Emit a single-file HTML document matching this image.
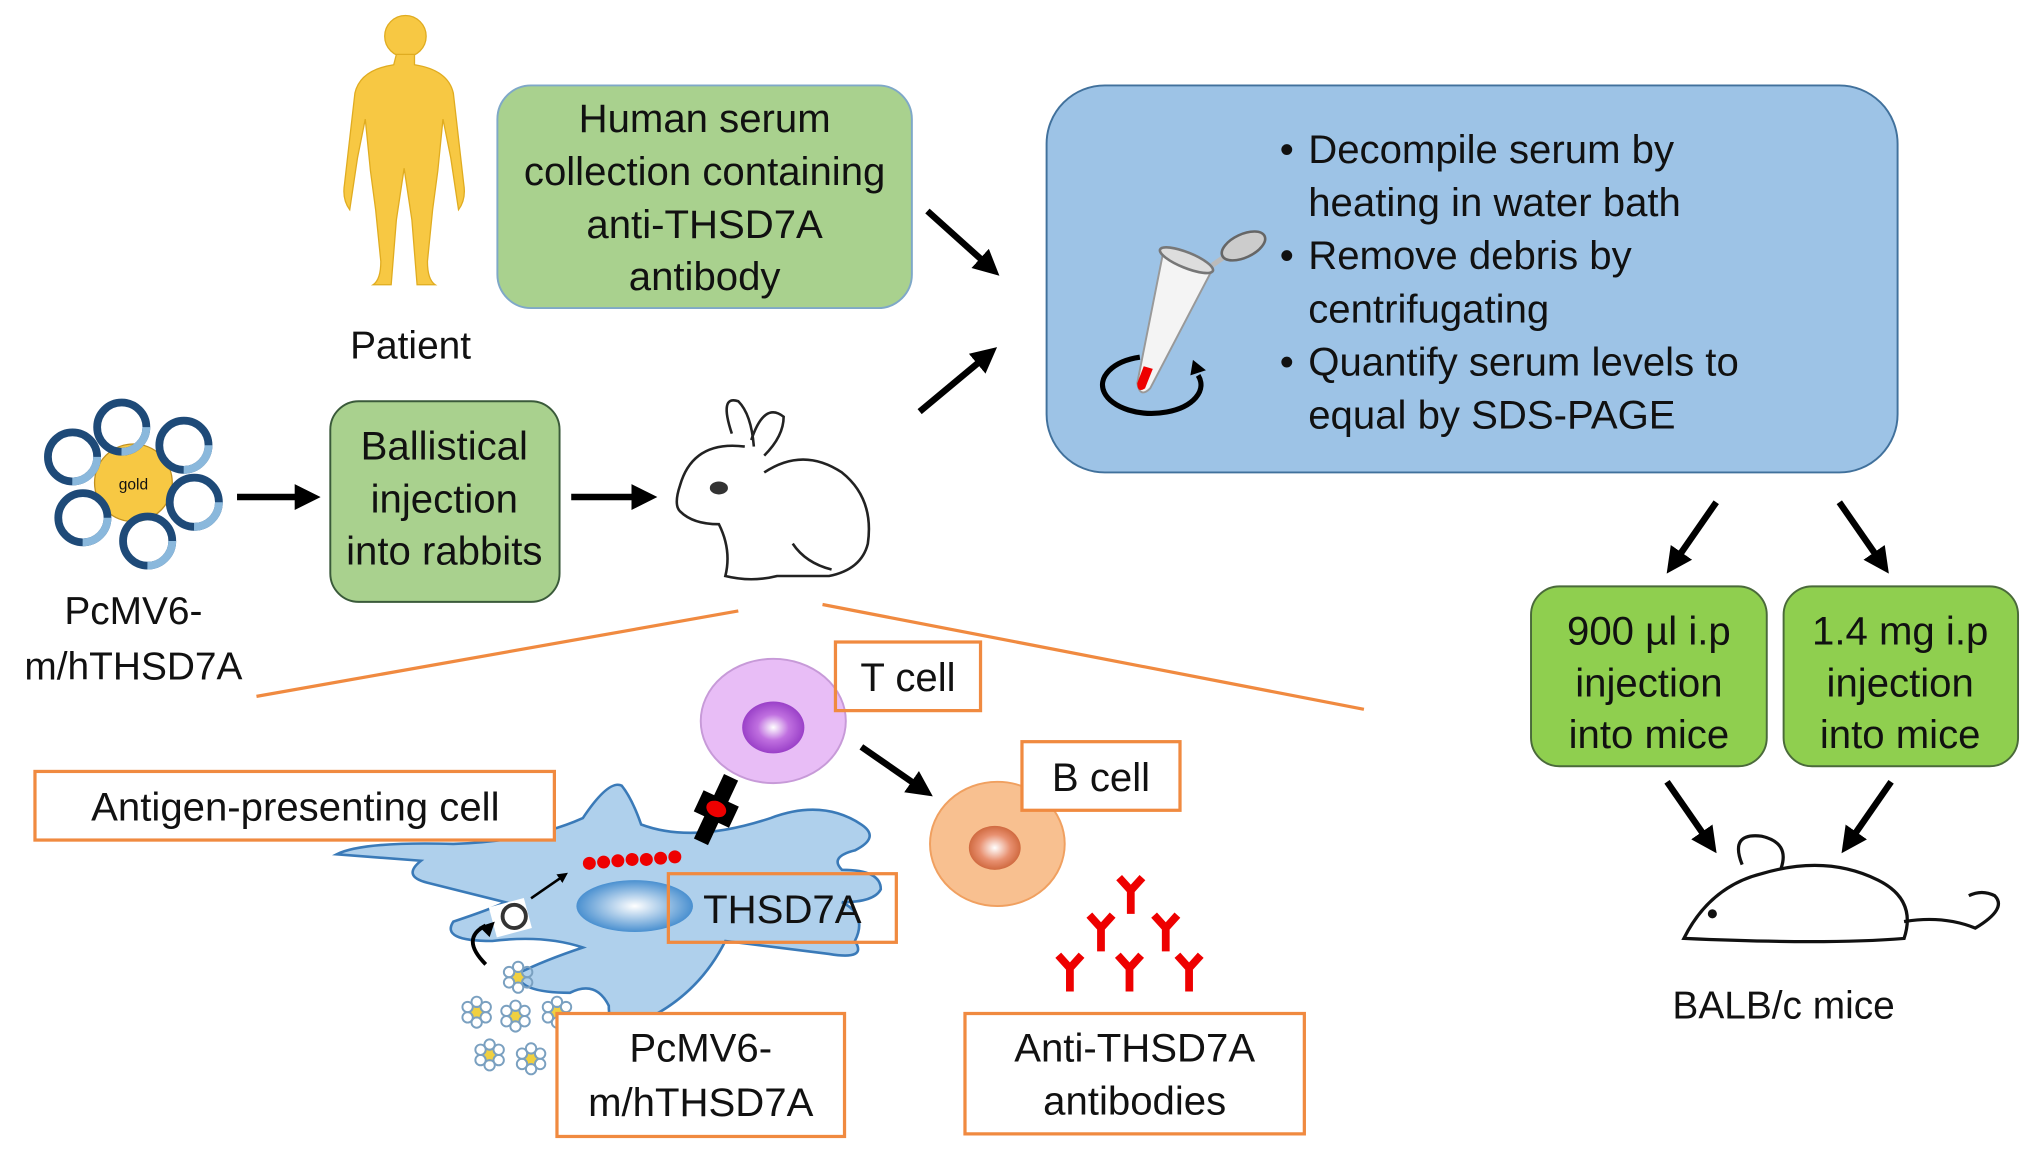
<!DOCTYPE html>
<html><head><meta charset="utf-8"><style>
html,body{margin:0;padding:0;background:#fff;}
svg{display:block;}
text{font-family:"Liberation Sans",Arial,sans-serif;fill:#111;}
</style></head><body>
<svg width="2031" height="1152" viewBox="0 0 1568 890" preserveAspectRatio="none" xmlns="http://www.w3.org/2000/svg">
<defs>
<marker id="ah" markerWidth="4" markerHeight="4" refX="2.5" refY="2" orient="auto" markerUnits="strokeWidth"><path d="M0,0 L4,2 L0,4 z" fill="#000"/></marker>
<radialGradient id="tc" cx="50%" cy="50%" r="50%"><stop offset="0" stop-color="#fff"/><stop offset="0.5" stop-color="#c070e0"/><stop offset="1" stop-color="#9a40c8"/></radialGradient>
<radialGradient id="bc" cx="50%" cy="50%" r="50%"><stop offset="0" stop-color="#fff"/><stop offset="0.6" stop-color="#e89070"/><stop offset="1" stop-color="#d06a40"/></radialGradient>
<radialGradient id="nu" cx="50%" cy="50%" r="50%"><stop offset="0" stop-color="#fff"/><stop offset="1" stop-color="#4a90d0"/></radialGradient>
<g id="ab"><path d="M0,0 L0,18 M0,0 L-9,-10 M0,0 L9,-10" stroke="#e00" stroke-width="6" fill="none"/></g>
<g id="fl"><circle r="5" fill="#f0d040"/><g fill="none" stroke="#7aa0c0" stroke-width="1.5"><circle cx="0" cy="-8" r="4"/><circle cx="7" cy="-4" r="4"/><circle cx="7" cy="4" r="4"/><circle cx="0" cy="8" r="4"/><circle cx="-7" cy="4" r="4"/><circle cx="-7" cy="-4" r="4"/></g></g>
</defs>

<!-- Human figure -->
<g fill="#F7C843" stroke="#e0ac20" stroke-width="1">
<circle cx="313" cy="28" r="16"/>
<path d="M306,42 h14 v8 q26,4 30,22 l8,70 q2,12 -4,20 l-6,-40 l-6,-30 l-4,40 l-4,30 l-4,40 q0,14 6,18 h-14 l-4,-50 l-6,-40 l-6,40 l-4,50 h-14 q6,-4 6,-18 l-4,-40 l-4,-30 l-4,-40 l-6,30 l-6,40 q-6,-8 -4,-20 l8,-70 q4,-18 30,-22 z"/>
</g>
<text x="317" y="277" font-size="30" text-anchor="middle">Patient</text>

<!-- Green box 1 -->
<rect x="384" y="66" width="320" height="172" rx="26" fill="#A9D18E" stroke="#7fa8c8" stroke-width="1.5"/>
<g font-size="31" text-anchor="middle"><text x="544" y="102">Human serum</text><text x="544" y="143">collection containing</text><text x="544" y="184">anti-THSD7A</text><text x="544" y="224">antibody</text></g>

<!-- arrows to blue box -->
<g stroke="#000" stroke-width="5" marker-end="url(#ah)"><line x1="716" y1="163" x2="766" y2="208"/><line x1="710" y1="318" x2="764" y2="273"/></g>

<!-- Blue box -->
<rect x="808" y="66" width="657" height="299" rx="45" fill="#9DC3E6" stroke="#41719C" stroke-width="1.5"/>
<g font-size="31"><text x="988" y="126">•</text><text x="1010" y="126">Decompile serum by</text><text x="1010" y="167">heating in water bath</text>
<text x="988" y="208">•</text><text x="1010" y="208">Remove debris by</text><text x="1010" y="249">centrifugating</text>
<text x="988" y="290">•</text><text x="1010" y="290">Quantify serum levels to</text><text x="1010" y="331">equal by SDS-PAGE</text></g>
<!-- tube icon -->
<path d="M898,195 L935,210 L888,300 Q880,308 878,296 Z" fill="#f4f4f4" stroke="#999" stroke-width="1.5"/>
<path d="M883,283 L890,285 L884,300 Q878,304 878,296 Z" fill="#e00"/>
<ellipse cx="916" cy="201" rx="22" ry="6" transform="rotate(22 916 201)" fill="#ddd" stroke="#777" stroke-width="2"/>
<path d="M936,205 q8,-6 12,-8" stroke="#bbb" stroke-width="4" fill="none"/>
<ellipse cx="960" cy="190" rx="18" ry="9" transform="rotate(-25 960 190)" fill="#ccc" stroke="#666" stroke-width="2"/>
<path d="M925,290 A38,22 0 1 1 880,276" fill="none" stroke="#000" stroke-width="4"/>
<path d="M921,278 l10,8 l-12,4 z" fill="#000"/>

<!-- plasmid gold -->
<circle cx="103" cy="373" r="30" fill="#F7C843" stroke="#c09020"/>
<text x="103" y="378" font-size="12" text-anchor="middle" fill="#554">gold</text>
<g fill="none" stroke-width="6">
<g stroke="#1e4a78"><circle cx="94" cy="330" r="19"/><circle cx="142" cy="344" r="19"/><circle cx="150" cy="388" r="19"/><circle cx="114" cy="418" r="19"/><circle cx="64" cy="400" r="19"/><circle cx="56" cy="353" r="19"/></g>
<g stroke="#8ab8dc" stroke-dasharray="30 90"><circle cx="94" cy="330" r="19"/><circle cx="142" cy="344" r="19"/><circle cx="150" cy="388" r="19"/><circle cx="114" cy="418" r="19"/><circle cx="64" cy="400" r="19"/><circle cx="56" cy="353" r="19"/></g>
</g>
<g font-size="30" text-anchor="middle"><text x="103" y="482">PcMV6-</text><text x="103" y="525">m/hTHSD7A</text></g>

<g stroke="#000" stroke-width="5" marker-end="url(#ah)"><line x1="183" y1="384" x2="240" y2="384"/><line x1="441" y1="384" x2="500" y2="384"/></g>

<!-- green box 2 -->
<rect x="255" y="310" width="177" height="155" rx="22" fill="#A9D18E" stroke="#3a5a3a" stroke-width="1.5"/>
<g font-size="31" text-anchor="middle"><text x="343" y="355">Ballistical</text><text x="343" y="396">injection</text><text x="343" y="436">into rabbits</text></g>

<!-- rabbit -->
<g fill="none" stroke="#222" stroke-width="2">
<path d="M565,335 q-10,-30 5,-25 q10,10 12,35"/><path d="M580,340 q10,-30 25,-18 q0,15 -15,30"/>
<path d="M575,345 q-40,-5 -50,30 q-5,15 0,20 q10,10 30,10 q10,20 5,40 q20,5 40,0 h40 q25,-5 30,-25 q5,-35 -20,-55 q-30,-20 -60,0"/>
<path d="M612,420 q10,15 30,20"/>
</g>
<ellipse cx="555" cy="377" rx="7" ry="5" fill="#333"/>

<!-- orange lines -->
<g stroke="#F08A40" stroke-width="2.5"><line x1="570" y1="472" x2="198" y2="538"/><line x1="635" y1="467" x2="1053" y2="548"/></g>

<!-- APC cell -->
<path d="M260,660 q20,-10 90,-8 q60,-2 100,-20 q20,-30 30,-25 q8,10 15,30 q40,15 100,-5 q40,-15 70,5 q15,10 -5,20 q-20,5 -10,15 q30,0 30,15 q-5,10 -30,10 q20,10 10,30 q10,15 -20,10 q-40,-5 -80,-10 q-20,40 -60,60 q-30,20 -30,-10 q-10,-20 -30,-10 q-40,0 -40,-15 q20,-10 50,-20 q-30,-10 -70,-5 q-40,0 -30,-15 q30,-10 40,-15 q-40,-10 -60,-15 q-20,-5 -5,-17 z" fill="#AFD0EC" stroke="#3a7ab8" stroke-width="2"/>
<ellipse cx="490" cy="700" rx="45" ry="20" fill="url(#nu)"/>
<g fill="#e00"><circle cx="455" cy="667" r="5"/><circle cx="466" cy="666" r="5"/><circle cx="477" cy="665" r="5"/><circle cx="488" cy="664" r="5"/><circle cx="499" cy="664" r="5"/><circle cx="510" cy="663" r="5"/><circle cx="521" cy="662" r="5"/></g>
<rect x="380" y="697" width="28" height="24" fill="#fff" transform="rotate(-15 394 709)"/>
<circle cx="397" cy="708" r="9" fill="#fff" stroke="#333" stroke-width="3"/>
<line x1="410" y1="694" x2="436" y2="676" stroke="#000" stroke-width="2" marker-end="url(#ah)"/>
<path d="M375,745 q-20,-20 0,-30" fill="none" stroke="#000" stroke-width="3"/>
<path d="M370,716 l12,-4 l-4,12 z" fill="#000"/>
<use href="#fl" x="400" y="755"/><use href="#fl" x="368" y="782"/><use href="#fl" x="398" y="785"/><use href="#fl" x="430" y="782"/><use href="#fl" x="378" y="815"/><use href="#fl" x="410" y="818"/>
<!-- receptor -->
<g transform="rotate(25 553 625)"><rect x="547" y="598" width="12" height="55" fill="#000"/><rect x="538" y="616" width="30" height="18" fill="#000"/><ellipse cx="553" cy="625" rx="8" ry="6" fill="#e00"/></g>
<!-- T cell -->
<ellipse cx="597" cy="557" rx="56" ry="48" fill="#e8bdf6" stroke="#c79ad8" stroke-width="1.5"/>
<ellipse cx="597" cy="562" rx="24" ry="20" fill="url(#tc)"/>
<line x1="665" y1="577" x2="714" y2="611" stroke="#000" stroke-width="5" marker-end="url(#ah)"/>
<!-- B cell -->
<ellipse cx="770" cy="652" rx="52" ry="48" fill="#F8C090" stroke="#f0a060" stroke-width="1.5"/>
<ellipse cx="768" cy="655" rx="20" ry="17" fill="url(#bc)"/>
<!-- antibodies -->
<use href="#ab" x="873" y="688"/><use href="#ab" x="850" y="717"/><use href="#ab" x="900" y="717"/><use href="#ab" x="826" y="748"/><use href="#ab" x="872" y="748"/><use href="#ab" x="918" y="748"/>

<!-- orange boxes -->
<g fill="#fff" stroke="#F08A40" stroke-width="2.5">
<rect x="645" y="496" width="112" height="53" fill="none"/>
<rect x="789" y="573" width="122" height="53"/>
<rect x="27" y="596" width="401" height="53"/>
<rect x="516" y="675" width="176" height="53" fill="none"/>
<rect x="430" y="783" width="222" height="95"/>
<rect x="745" y="783" width="262" height="93"/>
</g>
<g font-size="31" text-anchor="middle">
<text x="701" y="534">T cell</text><text x="850" y="611">B cell</text>
<text x="228" y="634">Antigen-presenting cell</text><text x="604" y="713">THSD7A</text>
<text x="541" y="820">PcMV6-</text><text x="541" y="862">m/hTHSD7A</text>
<text x="876" y="820">Anti-THSD7A</text><text x="876" y="861">antibodies</text>
</g>

<!-- right arrows -->
<g stroke="#000" stroke-width="5" marker-end="url(#ah)">
<line x1="1325" y1="388" x2="1291" y2="437"/><line x1="1420" y1="388" x2="1454" y2="437"/>
<line x1="1287" y1="604" x2="1321" y2="653"/><line x1="1460" y1="604" x2="1426" y2="653"/>
</g>
<rect x="1182" y="453" width="182" height="139" rx="22" fill="#8FCF4F" stroke="#4a6a3a" stroke-width="1.5"/>
<rect x="1377" y="453" width="181" height="139" rx="22" fill="#8FCF4F" stroke="#4a6a3a" stroke-width="1.5"/>
<g font-size="31" text-anchor="middle">
<text x="1273" y="498">900 µl i.p</text><text x="1273" y="538">injection</text><text x="1273" y="578">into mice</text>
<text x="1467" y="498">1.4 mg i.p</text><text x="1467" y="538">injection</text><text x="1467" y="578">into mice</text>
</g>
<!-- mouse -->
<g fill="none" stroke="#111" stroke-width="2.5">
<path d="M1300,725 q20,-40 60,-50 q50,-15 90,5 q30,15 20,45 q-60,5 -170,0 z"/>
<path d="M1345,668 q-10,-25 15,-22 q22,5 15,25"/>
<path d="M1470,712 q30,-5 55,5 q25,-15 15,-25 q-10,-5 -20,0"/>
</g>
<circle cx="1322" cy="706" r="3.5" fill="#111"/>
<text x="1377" y="787" font-size="30" text-anchor="middle">BALB/c mice</text>
</svg>
</body></html>
